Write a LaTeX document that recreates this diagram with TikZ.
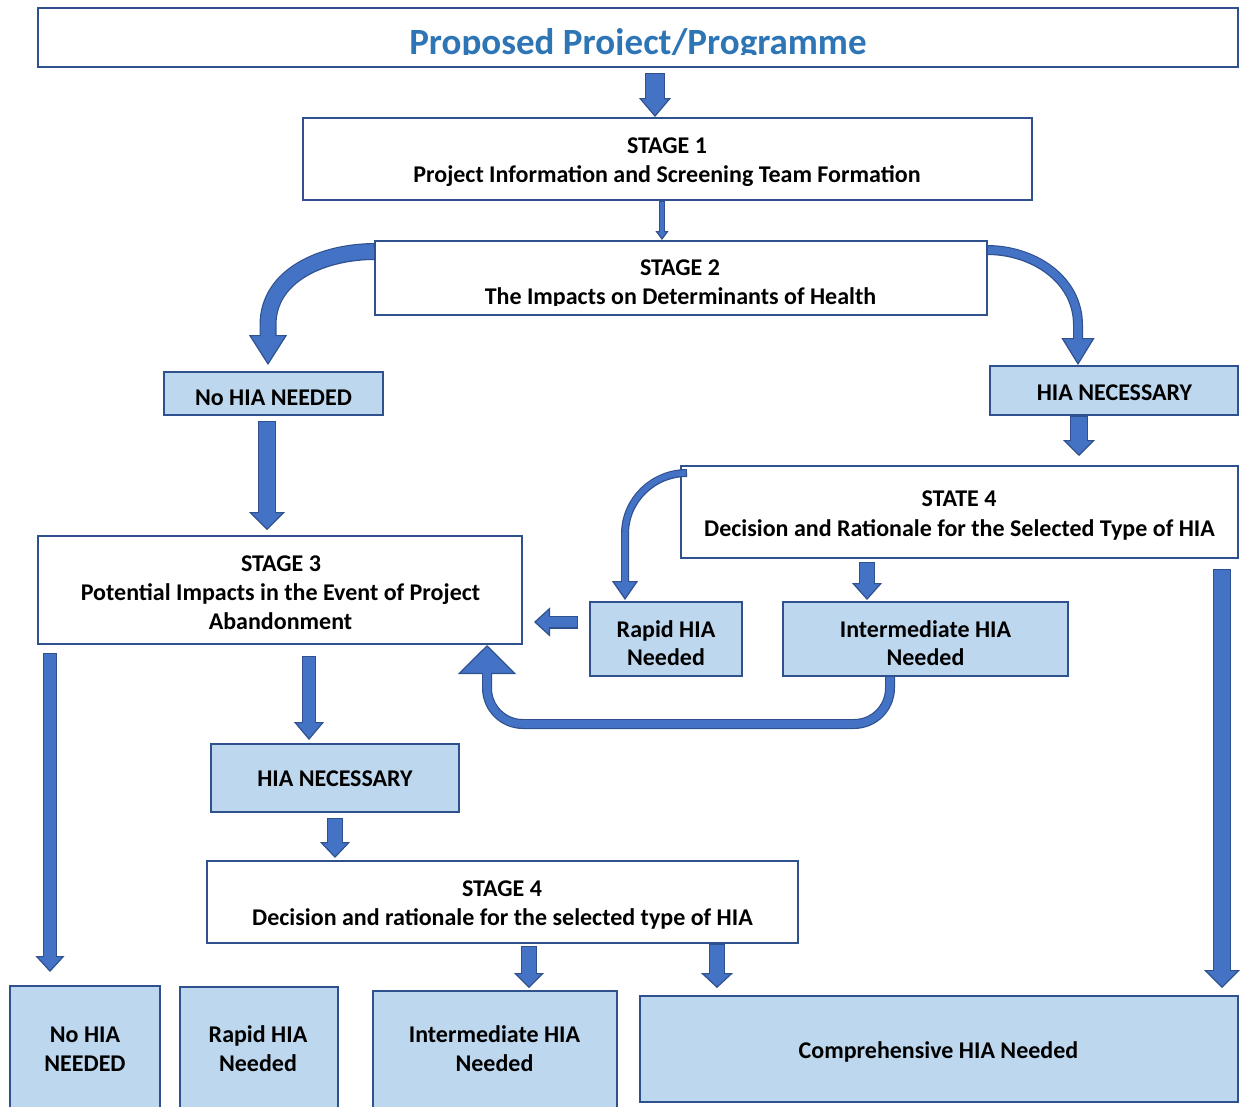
\documentclass[tikz,border=0pt]{standalone}
\usepackage{fontspec}
\setmainfont{Carlito}
\usetikzlibrary{arrows.meta,calc}
\definecolor{edge}{HTML}{2F528F}
\definecolor{arrowfill}{HTML}{4472C4}
\definecolor{boxfill}{HTML}{BDD7EE}
\definecolor{titleblue}{HTML}{2E75B6}
\begin{document}
\begin{tikzpicture}[x=1pt,y=-1pt,
  box/.style={draw=edge, line width=2pt, fill=white, inner sep=0pt, outer sep=0pt, anchor=north west},
  bluebox/.style={box, fill=boxfill},
  txt/.style={anchor=base, inner sep=0pt, font=\bfseries\fontsize{24}{29}\selectfont},
  % block arrow: shaft width, head width, head length
  blk/.style n args={3}{draw=edge, line width=#1,
    -{Triangle[width=#2,length=#3,line width=1.2pt,fill=arrowfill]},
    postaction={draw=arrowfill, line width=#1-2.4pt, -, shorten >=#3-2.5pt, shorten <=1.2pt}}]
\useasboundingbox (0,0) rectangle (1242,1106);

% boxes
\node[box, minimum width=1200, minimum height=59] (title) at (38,8) {};
\node[box, minimum width=729, minimum height=82] (st1) at (303,118) {};
\node[box, minimum width=612, minimum height=74] (st2) at (375,241) {};
\node[bluebox, minimum width=219, minimum height=43] (nohia1) at (164,372) {};
\node[bluebox, minimum width=248, minimum height=49] (hianec1) at (990,366) {};
\node[box, minimum width=557, minimum height=92] (state4) at (681,466) {};
\node[box, minimum width=484, minimum height=108] (stage3) at (38,536) {};
\node[bluebox, minimum width=152, minimum height=74] (rapid1) at (590,602) {};
\node[bluebox, minimum width=285, minimum height=74] (inter1) at (783,602) {};
\node[bluebox, minimum width=248, minimum height=68] (hianec2) at (211,744) {};
\node[box, minimum width=591, minimum height=82] (stage4) at (207,861) {};
\node[bluebox, minimum width=150, minimum height=134] (nohia2) at (10,986) {};
\node[bluebox, minimum width=158, minimum height=133] (rapid2) at (180,987) {};
\node[bluebox, minimum width=244, minimum height=129] (inter2) at (373,991) {};
\node[bluebox, minimum width=598, minimum height=106] (comp) at (640,996) {};

% texts
\begin{scope}
  \clip (38,8) rectangle (1238,54.5);
  \node[txt, font=\bfseries\fontsize{37}{40}\selectfont, text=titleblue] (titlet) at (638,54.5) {Proposed Project/Programme};
\end{scope}
\node[txt] (st1a) at (667,153) {STAGE 1};
\node[txt] (st1b) at (667,182) {Project Information and Screening Team Formation};
\node[txt] (st2a) at (680,275) {STAGE 2};
\begin{scope}
  \clip (375,241) rectangle (987,305);
  \node[txt] (st2b) at (680.5,304.5) {The Impacts on Determinants of Health};
\end{scope}
\node[txt] (nohia1t) at (273.5,405) {No HIA NEEDED};
\node[txt] (hianec1t) at (1114.5,400) {HIA NECESSARY};
\node[txt] (state4a) at (959,506) {STATE 4};
\node[txt] (state4b) at (959.5,536) {Decision and Rationale for the Selected Type of HIA};
\node[txt] (stage3a) at (281,571) {STAGE 3};
\node[txt] (stage3b) at (280.5,600) {Potential Impacts in the Event of Project};
\node[txt] (stage3c) at (280.5,629) {Abandonment};
\node[txt] (rapid1a) at (666,637) {Rapid HIA};
\node[txt] (rapid1b) at (666,665) {Needed};
\node[txt] (inter1a) at (925.5,637) {Intermediate HIA};
\node[txt] (inter1b) at (925.5,665) {Needed};
\node[txt] (hianec2t) at (335,786) {HIA NECESSARY};
\node[txt] (stage4a) at (502,896) {STAGE 4};
\node[txt] (stage4b) at (502.5,925) {Decision and rationale for the selected type of HIA};
\node[txt] (nohia2a) at (85,1042) {No HIA};
\node[txt] (nohia2b) at (85,1071) {NEEDED};
\node[txt] (rapid2a) at (258,1042) {Rapid HIA};
\node[txt] (rapid2b) at (258,1071) {Needed};
\node[txt] (inter2a) at (494.5,1042) {Intermediate HIA};
\node[txt] (inter2b) at (494.5,1071) {Needed};
\node[txt] (compt) at (938.5,1058) {Comprehensive HIA Needed};

% straight block arrows
\draw[blk={20pt}{32pt}{19pt}] ($(title.south)+(17,6)$) -- ($(st1.north)+(-12.5,-1)$);
\draw[blk={6pt}{13pt}{9pt}] ($(st1.south)+(-5.5,1)$) -- ($(st2.north)+(-19,-1)$);
\draw[blk={18pt}{32pt}{16pt}] ($(hianec1.south)+(-35,1)$) -- ($(state4.north)+(119.5,-10)$);
\draw[blk={18pt}{36pt}{18pt}] ($(nohia1.south)+(-6.5,6)$) -- ($(stage3.north)+(-13,-6)$);
\draw[blk={16pt}{30pt}{17pt}] ($(state4.south)+(-92.5,4)$) -- ($(inter1.north)+(-58.5,-2)$);
\draw[blk={13pt}{29pt}{16pt}] ($(rapid1.west)+(-12,-17)$) -- ($(stage3.east)+(12,32)$);
\draw[blk={14pt}{29pt}{16pt}] ($(stage3.south west)+(12,9)$) -- ($(nohia2.north)+(-35,-14)$);
\draw[blk={14pt}{30pt}{18pt}] ($(stage3.south)+(29,12)$) -- ($(hianec2.north)+(-26,-4)$);
\draw[blk={16pt}{30pt}{16pt}] ($(hianec2.south)+(0,6)$) -- ($(stage4.north)+(-167.5,-3)$);
\draw[blk={16pt}{30pt}{15pt}] ($(stage4.south)+(26.5,3)$) -- ($(inter2.north)+(34,-3)$);
\draw[blk={16pt}{32pt}{15pt}] ($(stage4.south east)+(-81,1)$) -- ($(comp.north)+(-222,-8)$);
\draw[blk={18pt}{36pt}{18pt}] ($(state4.south east)+(-16,11)$) -- ($(comp.north east)+(-16,-8)$);

% curved block arrows
\coordinate (ltip) at ($(nohia1.north)+(-5.5,-7)$);
\draw[blk={17pt}{38pt}{30pt}] ($(st2.north west)+(0,10.5)$) to[out=180,in=90] ($(ltip)+(0,-40)$) -- (ltip);
\coordinate (rtip) at ($(hianec1.north)+(-36,-1)$);
\draw[blk={10pt}{33pt}{27pt}] ($(st2.north east)+(0,9)$) to[out=0,in=90] ($(rtip)+(0,-40)$) -- (rtip);
\coordinate (stip) at ($(rapid1.north)+(-41,-2)$);
\draw[blk={8pt}{26pt}{19pt}] ($(state4.north west)+(6,7)$) to[out=180,in=90] ($(stip)+(0,-66)$) -- (stip);
\coordinate (utip) at ($(stage3.south east)+(-35,1)$);
\draw[blk={10pt}{58pt}{29pt}] ($(inter1.south)+(-35.5,0)$) -- ++(0,12)
  to[out=-90,in=0] ++(-36,36) -- ($(utip)+(36,79)$)
  to[out=180,in=-90] ++(-36,-36) -- (utip);
\end{tikzpicture}
\end{document}
